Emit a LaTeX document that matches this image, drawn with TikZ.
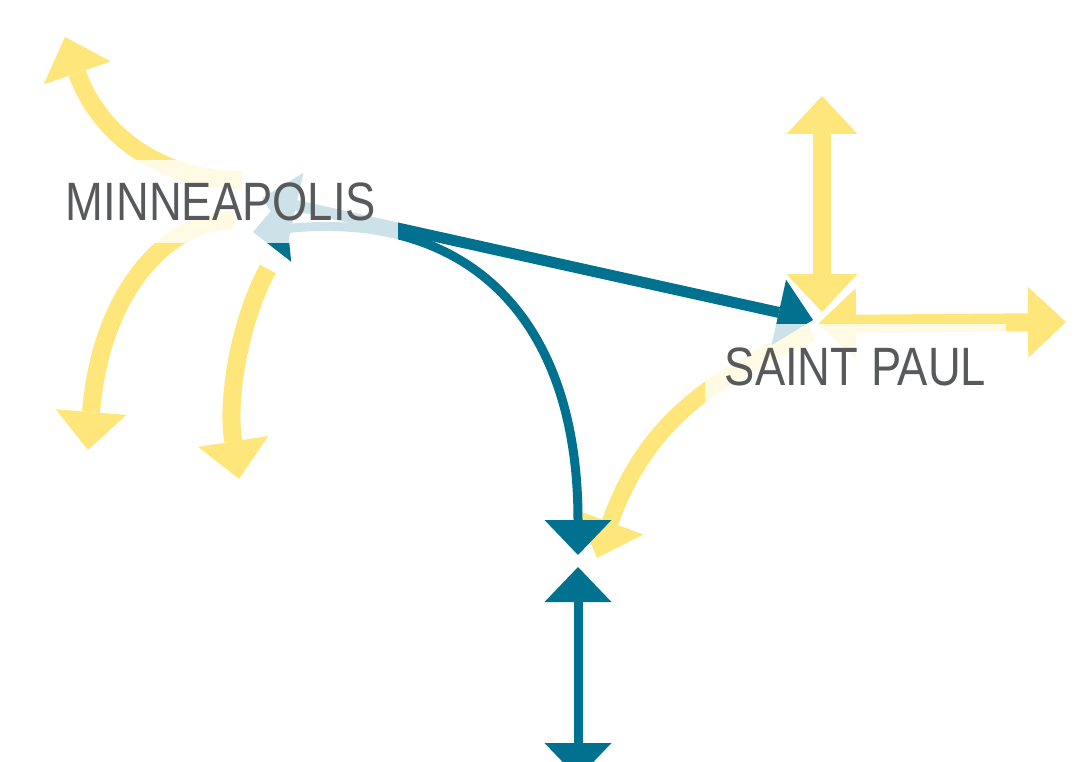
\documentclass[tikz,border=0pt]{standalone}
\usepackage{fontspec}
\newfontfamily\labfont{Liberation Sans}[FakeStretch=0.84]
\usetikzlibrary{arrows.meta}
\definecolor{flowyellow}{RGB}{255,230,123}
\definecolor{flowblue}{RGB}{0,114,143}
\definecolor{labelgray}{RGB}{88,89,91}
\tikzset{
  yflow/.style={draw=flowyellow, line width=18pt, >={Triangle[length=38pt,width=71pt,line width=0pt]}},
  bflow/.style={draw=flowblue, line width=9pt, >={Triangle[length=35pt,width=67pt,line width=0pt]}},
  labelbox/.style={fill=white, fill opacity=0.8, text opacity=1, text=labelgray, inner sep=0pt,
    font=\labfont\fontsize{54}{60}\selectfont}
}
\begin{document}
\begin{tikzpicture}[x=1pt,y=-1pt]
\useasboundingbox (0,0) rectangle (1077,762);
% points
\coordinate (mp) at (253,232);
\coordinate (mpS) at (262,198);
\coordinate (sp) at (813,320);
\coordinate (loIn) at (578,555);
\coordinate (loOut) at (578,567);
\coordinate (offS) at (578,778);
\coordinate (y1s) at (242,180);
\coordinate (nw) at (65,37);
\coordinate (y2s) at (233,220);
\coordinate (sw) at (88,450);
\coordinate (y3s) at (268,269);
\coordinate (ss) at (239,479);
\coordinate (spN) at (822,96);
\coordinate (spV) at (822,312);
\coordinate (spH) at (818,324);
\coordinate (east) at (1066,322);
\coordinate (spC) at (812,333);
\coordinate (loY) at (597,558);
% yellow flows
\draw[yflow,->] (y1s) .. controls (150,180) and (95,125) .. (nw);
\draw[yflow,->] (y2s) .. controls (160,222) and (100,300) .. (sw);
\draw[yflow,->] (y3s) .. controls (242,315) and (226,395) .. (ss);
\draw[yflow,<->] (spN) -- (spV);
\draw[yflow,<->] (spH) -- (east);
\draw[yflow,->,line width=17pt] (spC) .. controls (690,385) and (640,440) .. (loY);
% blue flows
\draw[bflow,<->,line width=11pt] (mpS) -- (sp);
\draw[bflow,<->] (mp) .. controls (470,210) and (578,320) .. (loIn);
\draw[bflow,<->] (loOut) -- (offS);
% labels
\node[labelbox, minimum width=354pt, minimum height=83pt] (mplabel) at (221,201.5) {MINNEAPOLIS};
\node[labelbox, minimum width=301pt, minimum height=86pt] (splabel) at (855.5,367) {SAINT PAUL};
\end{tikzpicture}
\end{document}
